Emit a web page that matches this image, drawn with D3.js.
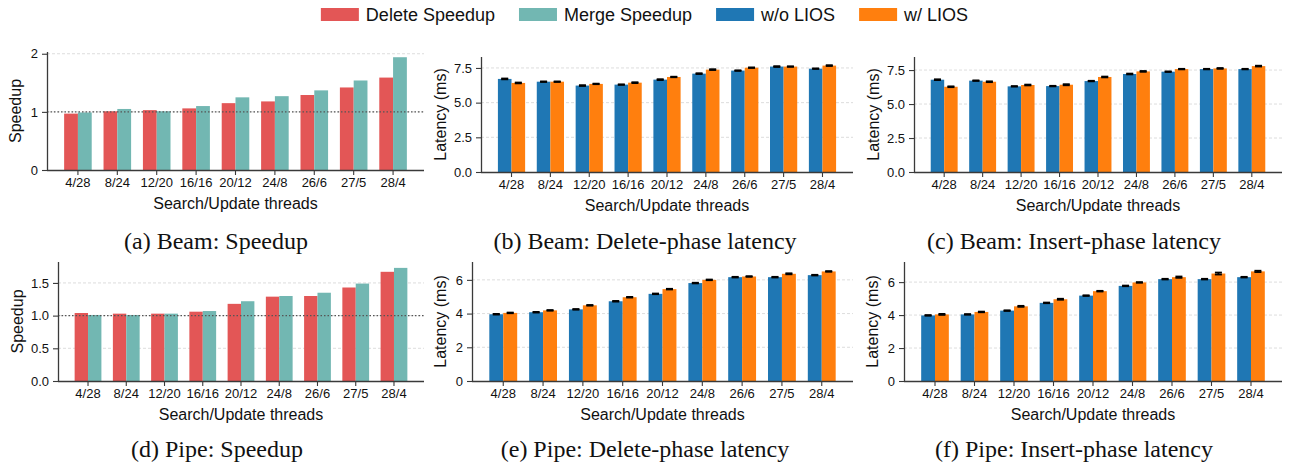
<!doctype html>
<html lang="en">
<head>
	<meta charset="utf-8">
	<title>LIOS speedup and latency</title>
	<script src="https://cdn.jsdelivr.net/npm/d3@7"></script>
	<style>
		body { margin: 0; background: #fff; }
		svg { display: block; font-family: "Liberation Sans", Arial, sans-serif; }
		.title { font-family: "Liberation Serif", "Times New Roman", serif; }
	</style>
</head>
<body>
	<svg id="chart" width="1289" height="465"></svg>
	<script>
		// thread splits (search/update)
		var categories = ["4/28", "8/24", "12/20", "16/16", "20/12", "24/8", "26/6", "27/5", "28/4"];

		// speedup panels
		var beamDeleteSpeedup = [0.97, 1.01, 1.03, 1.06, 1.15, 1.18, 1.29, 1.42, 1.59];
		var beamMergeSpeedup  = [0.99, 1.05, 1.01, 1.10, 1.25, 1.27, 1.37, 1.54, 1.94];
		var pipeDeleteSpeedup = [1.04, 1.03, 1.03, 1.06, 1.18, 1.29, 1.30, 1.43, 1.67];
		var pipeMergeSpeedup  = [1.01, 1.01, 1.03, 1.07, 1.22, 1.30, 1.35, 1.49, 1.73];

		// latency panels (ms)
		var beamDelNoLios = [6.71, 6.51, 6.23, 6.30, 6.66, 7.09, 7.31, 7.60, 7.45];
		var beamDelLios   = [6.42, 6.51, 6.35, 6.44, 6.85, 7.38, 7.52, 7.60, 7.67];
		var beamInsNoLios = [6.79, 6.72, 6.30, 6.32, 6.69, 7.21, 7.38, 7.57, 7.57];
		var beamInsLios   = [6.27, 6.64, 6.40, 6.42, 6.99, 7.40, 7.57, 7.62, 7.79];
		var pipeDelNoLios = [3.96, 4.08, 4.25, 4.73, 5.17, 5.81, 6.16, 6.16, 6.28];
		var pipeDelLios   = [4.04, 4.19, 4.49, 4.97, 5.45, 6.00, 6.20, 6.36, 6.50];
		var pipeInsNoLios = [3.98, 4.04, 4.27, 4.74, 5.18, 5.77, 6.18, 6.18, 6.30];
		var pipeInsLios   = [4.04, 4.19, 4.53, 4.96, 5.45, 5.98, 6.30, 6.52, 6.65];

		// error bar half-widths (ms)
		var beamDelNoLiosErr = [0.03, 0.02, 0.03, 0.02, 0.03, 0.03, 0.02, 0.03, 0.02];
		var beamDelLiosErr   = [0.03, 0.02, 0.02, 0.03, 0.02, 0.03, 0.02, 0.02, 0.03];
		var beamInsNoLiosErr = [0.03, 0.02, 0.02, 0.02, 0.02, 0.03, 0.02, 0.02, 0.02];
		var beamInsLiosErr   = [0.03, 0.03, 0.03, 0.04, 0.03, 0.03, 0.02, 0.03, 0.03];
		var pipeDelNoLiosErr = [0.02, 0.02, 0.02, 0.02, 0.02, 0.02, 0.02, 0.02, 0.02];
		var pipeDelLiosErr   = [0.02, 0.02, 0.02, 0.02, 0.02, 0.02, 0.02, 0.03, 0.02];
		var pipeInsNoLiosErr = [0.02, 0.02, 0.02, 0.02, 0.02, 0.02, 0.02, 0.02, 0.02];
		var pipeInsLiosErr   = [0.03, 0.02, 0.03, 0.03, 0.02, 0.02, 0.04, 0.06, 0.04];

		var legendLabels = ["Delete Speedup", "Merge Speedup", "w/o LIOS", "w/ LIOS"];
		var colors = ["#e35656", "#72b7b2", "#1f77b4", "#ff7f0e"];

		var panels = [
			{ title: "(a) Beam: Speedup", ylabel: "Speedup", a: beamDeleteSpeedup, b: beamMergeSpeedup, c: [0, 1],
			  ymax: 2.03, ticks: [0, 1, 2], fmt: "d", ref: 1, x0: 47, x1: 424, yTop: 52, yBot: 170, titleX: 216, titleY: 249 },
			{ title: "(b) Beam: Delete-phase latency", ylabel: "Latency (ms)", a: beamDelNoLios, b: beamDelLios,
			  ea: beamDelNoLiosErr, eb: beamDelLiosErr, c: [2, 3],
			  ymax: 8.29, ticks: [0, 2.5, 5, 7.5], fmt: ".1f", x0: 481, x1: 853, yTop: 57, yBot: 172, titleX: 645, titleY: 249 },
			{ title: "(c) Beam: Insert-phase latency", ylabel: "Latency (ms)", a: beamInsNoLios, b: beamInsLios,
			  ea: beamInsNoLiosErr, eb: beamInsLiosErr, c: [2, 3],
			  ymax: 8.46, ticks: [0, 2.5, 5, 7.5], fmt: ".1f", x0: 914, x1: 1282, yTop: 57, yBot: 172, titleX: 1074, titleY: 249 },
			{ title: "(d) Pipe: Speedup", ylabel: "Speedup", a: pipeDeleteSpeedup, b: pipeMergeSpeedup, c: [0, 1],
			  ymax: 1.82, ticks: [0, 0.5, 1, 1.5], fmt: ".1f", ref: 1, x0: 58, x1: 424, yTop: 262, yBot: 381, titleX: 217, titleY: 457 },
			{ title: "(e) Pipe: Delete-phase latency", ylabel: "Latency (ms)", a: pipeDelNoLios, b: pipeDelLios,
			  ea: pipeDelNoLiosErr, eb: pipeDelLiosErr, c: [2, 3],
			  ymax: 7.06, ticks: [0, 2, 4, 6], fmt: "d", x0: 472, x1: 853, yTop: 262, yBot: 381, titleX: 645, titleY: 457 },
			{ title: "(f) Pipe: Insert-phase latency", ylabel: "Latency (ms)", a: pipeInsNoLios, b: pipeInsLios,
			  ea: pipeInsNoLiosErr, eb: pipeInsLiosErr, c: [2, 3],
			  ymax: 7.22, ticks: [0, 2, 4, 6], fmt: "d", x0: 904, x1: 1282, yTop: 262, yBot: 381, titleX: 1074, titleY: 457 }
		];

		var svg = d3.select("#chart");
		var axisColor = "#3a3a3a";

		panels.forEach(drawPanel);
		drawLegend();

		function drawPanel(p) {
			var g = svg.append("g");
			var x = d3.scaleBand().domain(categories).range([p.x0, p.x1]).paddingInner(0.3).paddingOuter(0.435);
			var xs = d3.scaleBand().domain([0, 1]).range([0, x.bandwidth()]);
			var y = d3.scaleLinear().domain([0, p.ymax]).range([p.yBot, p.yTop]);

			// grid
			g.selectAll(".grid").data(p.ticks.filter(function(t) { return t > 0; })).enter()
				.append("line")
				.attr("x1", p.x0).attr("x2", p.x1)
				.attr("y1", function(d) { return y(d); }).attr("y2", function(d) { return y(d); })
				.attr("stroke", "#d4d4d4").attr("stroke-width", 0.8).attr("stroke-dasharray", "3,2");

			var series = [
				{ vals: p.a, err: p.ea, color: colors[p.c[0]], k: 0 },
				{ vals: p.b, err: p.eb, color: colors[p.c[1]], k: 1 }
			];
			series.forEach(function(s) {
				g.selectAll(null).data(s.vals).enter()
					.append("rect")
					.attr("x", function(d, i) { return x(categories[i]) + xs(s.k); })
					.attr("width", xs.bandwidth())
					.attr("y", function(d) { return y(d); })
					.attr("height", function(d) { return y(0) - y(d); })
					.attr("fill", s.color);
				if (s.err) {
					var eg = g.selectAll(null).data(s.vals).enter().append("g")
						.attr("stroke", "#000").attr("stroke-width", 1.8);
					eg.append("line")
						.attr("x1", function(d, i) { return x(categories[i]) + xs(s.k) + xs.bandwidth() / 2; })
						.attr("x2", function(d, i) { return x(categories[i]) + xs(s.k) + xs.bandwidth() / 2; })
						.attr("y1", function(d, i) { return y(d - s.err[i]); })
						.attr("y2", function(d, i) { return y(d + s.err[i]); });
					[-1, 1].forEach(function(sign) {
						eg.append("line")
							.attr("x1", function(d, i) { return x(categories[i]) + xs(s.k) + xs.bandwidth() / 2 - 3.5; })
							.attr("x2", function(d, i) { return x(categories[i]) + xs(s.k) + xs.bandwidth() / 2 + 3.5; })
							.attr("y1", function(d, i) { return y(d + sign * s.err[i]); })
							.attr("y2", function(d, i) { return y(d + sign * s.err[i]); });
					});
				}
			});

			if (p.ref !== undefined) {
				g.append("line")
					.attr("x1", p.x0).attr("x2", p.x1)
					.attr("y1", y(p.ref)).attr("y2", y(p.ref))
					.attr("stroke", "#555").attr("stroke-width", 1.4).attr("stroke-dasharray", "1.5,2");
			}

			var xAxis = d3.axisBottom(x).tickSize(5).tickPadding(3);
			var xg = g.append("g").attr("transform", "translate(0," + p.yBot + ")").call(xAxis);
			var yAxis = d3.axisLeft(y).tickValues(p.ticks).tickFormat(d3.format(p.fmt)).tickSize(5).tickPadding(4);
			var yg = g.append("g").attr("transform", "translate(" + p.x0 + ",0)").call(yAxis);
			[xg, yg].forEach(function(ax) {
				ax.select(".domain").attr("stroke", axisColor).attr("stroke-width", 1.3);
				ax.selectAll(".tick line").attr("stroke", axisColor).attr("stroke-width", 1.1);
				ax.selectAll(".tick text").attr("fill", "#111").style("font-size", "13px")
					.style("font-family", "'Liberation Sans', Arial, sans-serif");
			});
			xg.select(".domain").attr("d", "M" + p.x0 + ",0.5H" + p.x1);
			yg.select(".domain").attr("d", "M0.5," + p.yTop + "V" + p.yBot);

			g.append("text")
				.attr("x", (p.x0 + p.x1) / 2).attr("y", p.yBot + 39)
				.attr("text-anchor", "middle").attr("fill", "#111").style("font-size", "16px")
				.text("Search/Update threads");
			g.append("text")
				.attr("transform", "translate(" + (p.x0 - (p.fmt === "d" ? 26 : 35)) + "," + ((p.yTop + p.yBot) / 2) + ") rotate(-90)")
				.attr("text-anchor", "middle").attr("fill", "#111").style("font-size", "16px")
				.text(p.ylabel);
			g.append("text").attr("class", "title")
				.attr("x", p.titleX).attr("y", p.titleY)
				.attr("text-anchor", "middle").attr("fill", "#111").style("font-size", "24px")
				.text(p.title);
		}

		function drawLegend() {
			var lg = svg.append("g");
			var cx = 0;
			legendLabels.forEach(function(lab, i) {
				var item = lg.append("g").attr("transform", "translate(" + cx + ",0)");
				item.append("rect").attr("x", 0).attr("y", 8).attr("width", 38).attr("height", 13).attr("fill", colors[i]);
				var t = item.append("text").attr("x", 45).attr("y", 21).attr("fill", "#111").style("font-size", "18px").text(lab);
				cx += 45 + t.node().getComputedTextLength() + 24;
			});
			var total = cx - 24;
			lg.attr("transform", "translate(" + (644.5 - total / 2) + ",0)");
		}
	</script>
</body>
</html>
